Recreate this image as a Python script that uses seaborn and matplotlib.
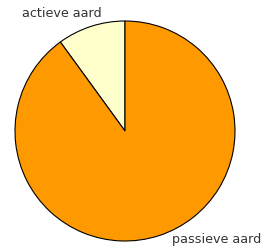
import matplotlib
matplotlib.use("Agg")
import matplotlib.pyplot as plt
import seaborn as sns

categories = ["actieve aard", "passieve aard"]
values = [10, 90]
colors = ["#FFFFCC", "#FF9900"]

sns.set_theme(style="white")
plt.rcParams['font.family'] = ['DejaVu Sans']

fig = plt.figure(figsize=(2.66, 2.48), dpi=100)
ax = fig.add_axes([15/266, 7/248, 220/266, 220/248])
ax.pie(values, colors=colors, startangle=90, counterclock=True,
       wedgeprops=dict(edgecolor="black", linewidth=0.8))
ax.set_xlim(-1, 1)
ax.set_ylim(-1, 1)
ax.set_aspect("equal")
ax.axis("off")

label_pos = [(-0.94, 1.07), (0.43, -0.99)]
for name, (x, y) in zip(categories, label_pos):
    ax.text(x, y, name, ha="left", va="center", fontsize=9.2,
            color="#333333", clip_on=False)

fig.savefig("out.png", dpi=100, facecolor="white")
